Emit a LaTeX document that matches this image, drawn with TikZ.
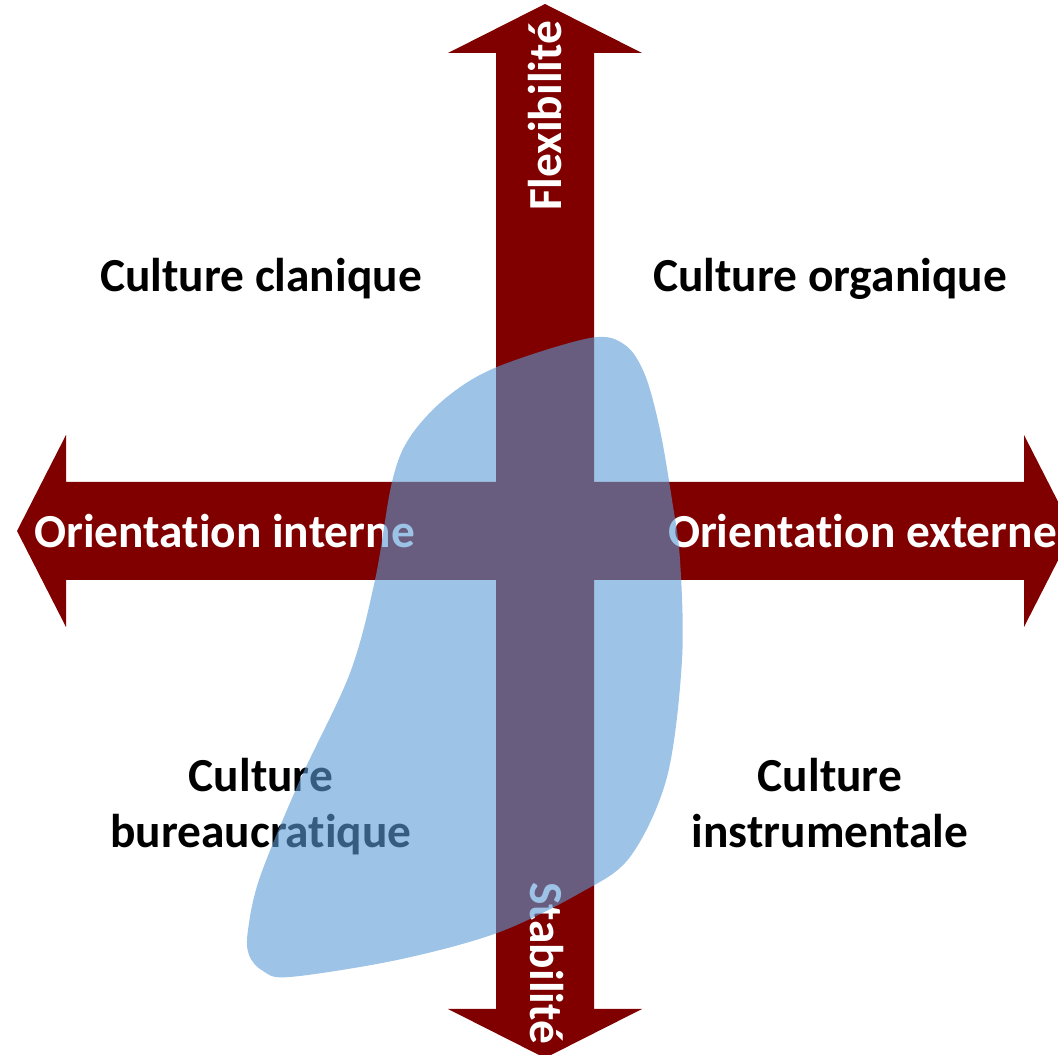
\documentclass[tikz,border=0pt]{standalone}
\usepackage{fontspec}
\setmainfont{Carlito}[RawFeature=-liga]
\definecolor{arrowred}{HTML}{800000}
\definecolor{blobblue}{HTML}{5B9BD5}
\tikzset{
  bigarrow/.style={fill=arrowred, draw=none},
  lbl/.style={font=\fontsize{47.4}{56}\selectfont\bfseries, inner sep=0pt, anchor=base, align=center},
  arrowlbl/.style={lbl, text=white},
  blob/.style={fill=blobblue, fill opacity=0.6, draw=none}
}
\begin{document}
\begin{tikzpicture}[x=1pt,y=1pt]
\useasboundingbox (0,0) rectangle (1058,1055);
\clip (0,0) rectangle (1058,1055);
% vertical double arrow
\fill[bigarrow] (496,46) -- (496,1002) -- (448,1002) -- (545,1051) -- (642,1002) -- (594,1002)
  -- (594,46) -- (642,46) -- (545,-3) -- (448,46) -- cycle;
% horizontal double arrow
\fill[bigarrow] (66,475) -- (1024,475) -- (1024,428) -- (1073,524) -- (1024,620) -- (1024,573)
  -- (66,573) -- (66,620) -- (17,524) -- (66,428) -- cycle;
% labels on arrows
\node[arrowlbl] (int) at (224.5,507) {Orientation interne};
\node[arrowlbl] (ext) at (862.5,507) {Orientation externe};
\node[arrowlbl, rotate=90] (flex) at (561,939) {Flexibilité};
\node[arrowlbl, rotate=-90] (stab) at (530,92) {Stabilité};
% quadrant labels
\node[lbl] (clan) at (261,763) {Culture clanique};
\node[lbl] (org) at (830,763) {Culture organique};
\node[lbl] (bur) at (261,207) {Culture\\bureaucratique};
\node[lbl] (ins) at (830,207) {Culture\\instrumentale};
% blob
\fill[blob] plot[smooth cycle, tension=0.55] coordinates {
  (590,717) (625,710) (645,680) (660,625) (672,555) (680,495) (682,395) (667,278)
  (630,198) (580,162) (497,122) (397,95) (290,78) (263,84) (249,100) (248,125) (260,178)
  (300,275) (350,382) (375,475) (392,573) (410,618) (447,658) (497,688)};
\end{tikzpicture}
\end{document}
